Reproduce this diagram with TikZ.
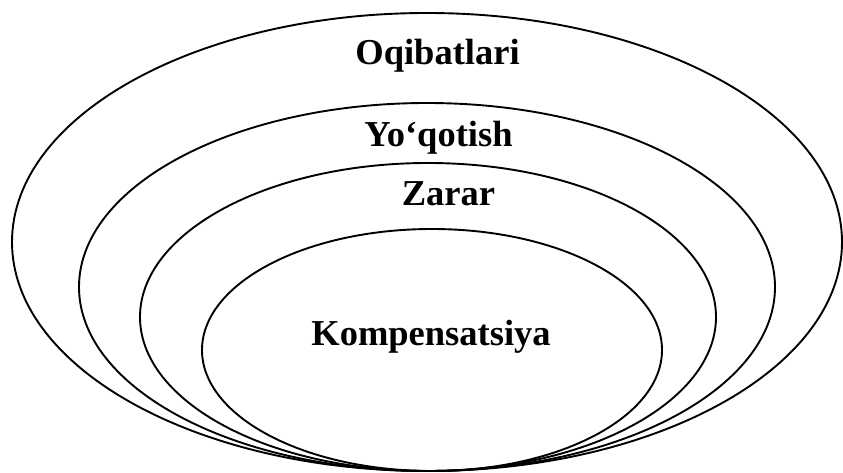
\documentclass[tikz,border=0pt]{standalone}
\usepackage{fontspec}
\setmainfont{Liberation Serif}
\begin{document}
\begin{tikzpicture}[x=1pt,y=-1pt,
  ring/.style={draw=black,line width=1.9pt},
  lbl/.style={anchor=base,inner sep=0pt,font=\fontsize{36.5}{40}\selectfont\bfseries}]
\useasboundingbox (0,0) rectangle (843,473);
\draw[ring] (427,242) ellipse [x radius=415, y radius=229];
\draw[ring] (427,287) ellipse [x radius=348, y radius=184];
\draw[ring] (428,317) ellipse [x radius=288, y radius=154];
\draw[ring] (432,350) ellipse [x radius=230, y radius=121];
\node[lbl] (o) at (437.5,65) {Oqibatlari};
\node[lbl] (y) at (438.5,147) {Yo‘qotish};
\node[lbl] (z) at (448.5,205) {Zarar};
\node[lbl] (k) at (431,345) {Kompensatsiya};
\end{tikzpicture}
\end{document}
